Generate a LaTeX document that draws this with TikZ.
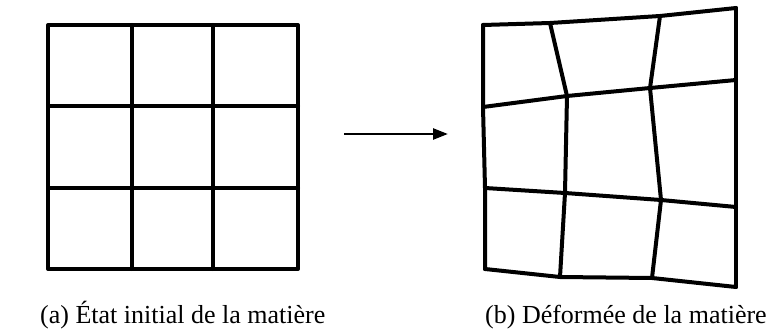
\documentclass[tikz,border=0pt]{standalone}
\usepackage{fontspec}
\setmainfont{Liberation Serif}
\usetikzlibrary{arrows.meta}
\begin{document}
\begin{tikzpicture}[x=1pt,y=-1pt,
  gridline/.style={line width=4pt, line cap=round, line join=round},
  arrowline/.style={line width=2.6pt, -{Triangle[length=15pt,width=11pt]}},
  caption/.style={font=\fontsize{26}{30}\selectfont, anchor=base west, inner sep=0pt}]
\useasboundingbox (0,0) rectangle (771,331);
% left grid
\draw[gridline] (48,25) rectangle (298,269);
\draw[gridline] (132,25) -- (132,269);
\draw[gridline] (213,25) -- (213,269);
\draw[gridline] (48,106) -- (298,106);
\draw[gridline] (48,188) -- (298,188);
% arrow
\coordinate (as) at (344,134);
\coordinate (ae) at (448,134);
\draw[arrowline] (as) -- (ae);
% right grid
\coordinate (p00) at (483,25);  \coordinate (p01) at (550,23);  \coordinate (p02) at (660,16);  \coordinate (p03) at (736,8);
\coordinate (p10) at (483,107); \coordinate (p11) at (567,96);  \coordinate (p12) at (650,88);  \coordinate (p13) at (736,80);
\coordinate (p20) at (485,188); \coordinate (p21) at (565,193); \coordinate (p22) at (661,200); \coordinate (p23) at (736,207);
\coordinate (p30) at (485,269); \coordinate (p31) at (560,277); \coordinate (p32) at (652,278); \coordinate (p33) at (736,287);
\foreach \r in {0,1,2,3} {\draw[gridline] (p\r0) -- (p\r1) -- (p\r2) -- (p\r3);}
\foreach \c in {0,1,2,3} {\draw[gridline] (p0\c) -- (p1\c) -- (p2\c) -- (p3\c);}
% captions
\node[caption] (capa) at (40,323) {(a) État initial de la matière};
\node[caption] (capb) at (485,323) {(b) Déformée de la matière};
\end{tikzpicture}
\end{document}
